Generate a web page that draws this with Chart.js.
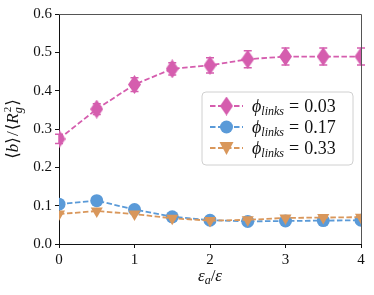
<!DOCTYPE html>
<html><head><meta charset="utf-8">
<script src="https://cdn.jsdelivr.net/npm/chart.js@4"></script>
<style>html,body{margin:0;padding:0;background:#fff}</style>
</head><body>
<canvas id="c" width="374" height="295" style="width:374px;height:295px"></canvas>
<script>
const epsRatio = [0, 0.5, 1, 1.5, 2, 2.5, 3, 3.5, 4];
const phi003 = [0.274, 0.352, 0.416, 0.457, 0.466, 0.482, 0.489, 0.489, 0.489];
const phi003Err = [0.012, 0.014, 0.018, 0.016, 0.02, 0.022, 0.022, 0.022, 0.022];
const phi017 = [0.104, 0.113, 0.090, 0.071, 0.062, 0.059, 0.060, 0.061, 0.062];
const phi033 = [0.078, 0.086, 0.078, 0.067, 0.061, 0.063, 0.068, 0.069, 0.070];
const seriesLabels = ['0.03', '0.17', '0.33'];
const xTickStep = 1, yTickStep = 0.1;

const PINK = '#D55DAE', BLUE = '#5A9AD8', ORANGE = '#D9975B';
const SERIF = '"Liberation Serif", "DejaVu Serif", serif';
const DASH = [5.5, 2.5], LW = 1.8;

function thinDiamond(color, w, h) {
  const c = document.createElement('canvas');
  c.width = w; c.height = h;
  const g = c.getContext('2d');
  g.fillStyle = color;
  g.beginPath();
  g.moveTo(w / 2, 0); g.lineTo(w, h / 2); g.lineTo(w / 2, h); g.lineTo(0, h / 2);
  g.closePath(); g.fill();
  return c;
}
const diamondImg = thinDiamond(PINK, 13, 19);

const pts = ys => epsRatio.map((x, i) => ({x, y: ys[i]}));

function drawRich(ctx, x, y, parts) {
  let cx = x;
  for (const [t, st, sz, dy, gap] of parts) {
    ctx.font = `${st} ${sz}px ${SERIF}`;
    cx += (gap || 0);
    ctx.fillText(t, cx, y + dy);
    cx += ctx.measureText(t).width + (gap || 0);
  }
  return cx;
}
function richWidth(ctx, parts) {
  let w = 0;
  for (const [t, st, sz, dy, gap] of parts) { ctx.font = `${st} ${sz}px ${SERIF}`; w += ctx.measureText(t).width + 2 * (gap || 0); }
  return w;
}

const decor = {
  id: 'decor',
  beforeDatasetsDraw(chart) {
    const {ctx, scales: {x, y}} = chart;
    ctx.save();
    ctx.strokeStyle = PINK; ctx.lineWidth = 1.5;
    epsRatio.forEach((v, i) => {
      const px = x.getPixelForValue(v);
      const y1 = y.getPixelForValue(phi003[i] - phi003Err[i]);
      const y2 = y.getPixelForValue(phi003[i] + phi003Err[i]);
      ctx.beginPath();
      ctx.moveTo(px, y1); ctx.lineTo(px, y2);
      ctx.moveTo(px - 4, y1); ctx.lineTo(px + 4, y1);
      ctx.moveTo(px - 4, y2); ctx.lineTo(px + 4, y2);
      ctx.stroke();
    });
    ctx.restore();
  },
  afterDraw(chart) {
    const {ctx, chartArea: a} = chart;
    ctx.save();
    ctx.strokeStyle = '#555'; ctx.lineWidth = 1;
    ctx.beginPath();
    ctx.moveTo(a.left, a.top + 0.5); ctx.lineTo(a.right + 0.5, a.top + 0.5); ctx.lineTo(a.right + 0.5, a.bottom);
    ctx.stroke();

    ctx.fillStyle = '#111';
    ctx.textBaseline = 'alphabetic';
    const xt = [['ε', 'italic', 17, 0], ['a', 'italic', 12, 3], ['/', 'normal', 17, 0], ['ε', 'italic', 17, 0]];
    const xw = richWidth(ctx, xt);
    drawRich(ctx, (a.left + a.right) / 2 - xw / 2, 281, xt);
    ctx.save();
    ctx.translate(18, (a.top + a.bottom) / 2);
    ctx.rotate(-Math.PI / 2);
    const yt1 = [['⟨', 'normal', 17, 0], ['b', 'italic', 17, 0], ['⟩', 'normal', 17, 0], ['/', 'normal', 17, 0, 1], ['⟨', 'normal', 17, 0], ['R', 'italic', 17, 0]];
    const w1 = richWidth(ctx, yt1);
    ctx.font = `italic 12px ${SERIF}`;
    const wsub = ctx.measureText('g').width + 1.5;
    ctx.font = `normal 17px ${SERIF}`;
    const wend = ctx.measureText('⟩').width;
    const total = w1 + wsub + wend;
    let cx = drawRich(ctx, -total / 2, 0, yt1);
    ctx.font = `italic 12px ${SERIF}`; ctx.fillText('g', cx, 4);
    ctx.font = `normal 11px ${SERIF}`; ctx.fillText('2', cx + 1, -7);
    ctx.font = `normal 17px ${SERIF}`; ctx.fillText('⟩', cx + wsub, 0);
    ctx.restore();

    const bx = 202, by = 92, bw = 151, bh = 73, r = 4;
    ctx.beginPath();
    ctx.moveTo(bx + r, by); ctx.arcTo(bx + bw, by, bx + bw, by + bh, r);
    ctx.arcTo(bx + bw, by + bh, bx, by + bh, r); ctx.arcTo(bx, by + bh, bx, by, r);
    ctx.arcTo(bx, by, bx + bw, by, r); ctx.closePath();
    ctx.fillStyle = 'rgba(255,255,255,0.85)'; ctx.fill();
    ctx.strokeStyle = '#d0d0d0'; ctx.lineWidth = 1; ctx.stroke();
    const rows = [106, 127, 148];
    const cols = [PINK, BLUE, ORANGE];
    rows.forEach((ry, i) => {
      ctx.strokeStyle = cols[i]; ctx.lineWidth = LW; ctx.setLineDash(DASH);
      ctx.beginPath(); ctx.moveTo(210, ry); ctx.lineTo(243, ry); ctx.stroke();
      ctx.setLineDash([]);
      ctx.fillStyle = cols[i];
      const mx = 226.5;
      if (i === 0) ctx.drawImage(diamondImg, mx - 6.5, ry - 9.5);
      else if (i === 1) { ctx.beginPath(); ctx.arc(mx, ry, 6.5, 0, Math.PI * 2); ctx.fill(); }
      else { ctx.beginPath(); ctx.moveTo(mx - 7, ry - 6); ctx.lineTo(mx + 7, ry - 6); ctx.lineTo(mx, ry + 7); ctx.closePath(); ctx.fill(); }
      ctx.fillStyle = '#111';
      drawRich(ctx, 252, ry + 6, [['ϕ', 'italic', 18, 0], ['links', 'italic', 12, 3], ['=', 'normal', 18, 0, 5], [seriesLabels[i], 'normal', 18, 0]]);
    });
    ctx.restore();
  }
};

const tickFont = {family: SERIF, size: 15};
new Chart(document.getElementById('c'), {
  type: 'line',
  data: {
    datasets: [
      {label: seriesLabels[0], data: pts(phi003), borderColor: PINK, backgroundColor: PINK,
       borderWidth: LW, borderDash: DASH, pointStyle: diamondImg, pointRadius: 7, order: 3},
      {label: seriesLabels[1], data: pts(phi017), borderColor: BLUE, backgroundColor: BLUE,
       borderWidth: LW, borderDash: DASH, pointStyle: 'circle', pointRadius: 6.5, pointBorderWidth: 0, order: 2},
      {label: seriesLabels[2], data: pts(phi033), borderColor: ORANGE, backgroundColor: ORANGE,
       borderWidth: LW, borderDash: DASH, pointStyle: 'triangle', pointRotation: 180, pointRadius: 7, pointBorderWidth: 0, order: 1}
    ]
  },
  options: {
    responsive: false, animation: false,
    layout: {padding: {top: 14, right: 13, left: 0, bottom: 0}},
    plugins: {legend: {display: false}, tooltip: {enabled: false}},
    scales: {
      x: {type: 'linear', min: 0, max: 4,
          ticks: {stepSize: xTickStep, color: '#111', font: tickFont, padding: 3, callback: v => String(v)},
          grid: {drawOnChartArea: false, drawTicks: true, tickLength: 4, color: '#111'},
          border: {color: '#111', width: 1},
          afterFit: s => { s.height = 51; }},
      y: {min: 0, max: 0.6,
          ticks: {stepSize: yTickStep, color: '#111', font: tickFont, padding: 3, callback: v => v.toFixed(1)},
          grid: {drawOnChartArea: false, drawTicks: true, tickLength: 4, color: '#111'},
          border: {color: '#111', width: 1},
          afterFit: s => { s.width = 59; }}
    }
  },
  plugins: [decor]
});
</script>
</body></html>
